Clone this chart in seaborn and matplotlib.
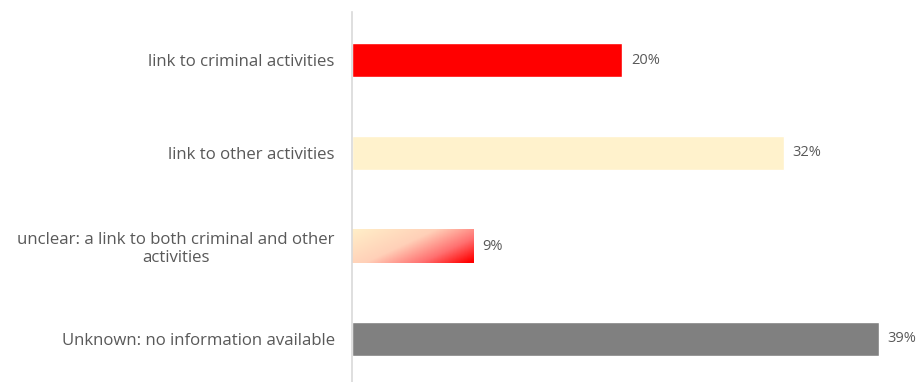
import matplotlib
matplotlib.use("Agg")
import matplotlib.pyplot as plt
import seaborn as sns
import numpy as np
import pandas as pd
from matplotlib.colors import LinearSegmentedColormap

categories = ["link to criminal activities",
              "link to other activities",
              "unclear: a link to both criminal and other\nactivities",
              "Unknown: no information available"]
values = [20, 32, 9, 39]
labels = ["20%", "32%", "9%", "39%"]
colors = ["#FF0000", "#FFF2CC", "#FFE7B0", "#808080"]

df = pd.DataFrame({"category": categories, "value": values})

sns.set_theme(style="white")
plt.rcParams['font.family'] = ['Open Sans', 'DejaVu Sans']

fig = plt.figure(figsize=(9.2, 3.82), dpi=100)
ax = fig.add_axes([352/920, 0.0, 1 - 352/920, 1 - 12/382])

sns.barplot(data=df, y="category", x="value", hue="category", palette=colors,
            orient="h", width=0.355, legend=False, ax=ax, saturation=1)

ax.set_xlim(0, (920 - 352) / 13.5)
ax.set_ylim(3.5 - 3.5/93, -0.5 - 1.5/93)

# gradient for third bar
grad_cmap = LinearSegmentedColormap.from_list(
    "g", [(0.0, "#FFEFC8"), (0.45, "#FFD0B8"), (0.75, "#FF7070"), (1.0, "#FF0000")])
bars = ax.patches
p = bars[2]
x0, y0 = p.get_x(), p.get_y()
w, h = p.get_width(), p.get_height()
nx, ny = 200, 50
xs = np.linspace(0, 1, nx)
ys = np.linspace(0, 1, ny)
X, Y = np.meshgrid(xs, ys)
T = np.clip(0.65 * X + 0.38 * Y, 0, 1)
im = ax.imshow(T, cmap=grad_cmap, extent=[x0, x0 + w, y0 + h, y0], origin="upper",
               aspect="auto", zorder=p.get_zorder() + 0.1, interpolation="bilinear")
im.set_clip_path(p)

for i, (v, lab) in enumerate(zip(values, labels)):
    ax.text(v + 0.65, i, lab, va="center", ha="left", fontsize=10.5, color="#595959")

ax.set_xlabel("")
ax.set_ylabel("")
ax.set_xticks([])
for s in ["top", "right", "bottom"]:
    ax.spines[s].set_visible(False)
ax.spines["left"].set_color("#D9D9D9")
ax.spines["left"].set_linewidth(1.2)
ax.tick_params(axis="y", length=0, pad=12.5)
for t in ax.get_yticklabels():
    t.set_fontsize(12.1)
    t.set_color("#595959")
    t.set_multialignment("center")

fig.savefig("out.png", dpi=100)
